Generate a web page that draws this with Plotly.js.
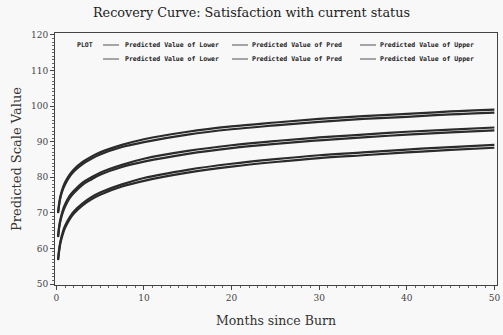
<!DOCTYPE html>
<html>
<head>
<meta charset="utf-8">
<script src="https://cdn.plot.ly/plotly-3.0.1.min.js"></script>
<style>html,body{margin:0;padding:0;background:#f8f8f8;}#chart{width:503px;height:335px;}</style>
</head>
<body>
<div id="chart"></div>
<script>
// Months since burn (x values)
const months = [0.2, 0.35, 0.5, 0.75, 1, 1.5, 2, 3, 4, 5, 7.5, 10, 15, 20, 25, 30, 35, 40, 45, 50];

// Upper band (two plotted lines)
const upperHi = [70.1, 73.1, 75.0, 77.1, 78.6, 80.7, 82.2, 84.3, 85.8, 87.0, 89.1, 90.7, 92.8, 94.3, 95.4, 96.4, 97.2, 97.8, 98.5, 99.0];
const upperLo = [69.9, 72.7, 74.6, 76.6, 78.0, 80.1, 81.6, 83.7, 85.2, 86.4, 88.5, 89.9, 92.0, 93.5, 94.6, 95.6, 96.4, 97.0, 97.7, 98.2];

// Predicted (middle band)
const predHi = [63.4, 66.6, 68.5, 70.8, 72.4, 74.7, 76.2, 78.5, 80.0, 81.3, 83.5, 85.2, 87.4, 89.0, 90.2, 91.2, 92.0, 92.8, 93.4, 94.0];
const predLo = [63.2, 66.2, 68.1, 70.2, 71.8, 74.1, 75.6, 77.9, 79.4, 80.7, 82.9, 84.4, 86.6, 88.2, 89.4, 90.4, 91.2, 92.0, 92.6, 93.2];

// Lower band
const lowerHi = [56.9, 60.2, 62.3, 64.7, 66.4, 68.7, 70.4, 72.7, 74.4, 75.7, 78.0, 79.8, 82.1, 83.8, 85.1, 86.2, 87.0, 87.8, 88.5, 89.1];
const lowerLo = [56.7, 59.8, 61.9, 64.1, 65.8, 68.1, 69.8, 72.1, 73.8, 75.1, 77.4, 79.0, 81.3, 83.0, 84.3, 85.4, 86.2, 87.0, 87.7, 88.3];

const seriesNames = ["Predicted Value of Lower", "Predicted Value of Pred", "Predicted Value of Upper"];
const legendTitle = "PLOT";
const xTicks = [0, 10, 20, 30, 40, 50];
const yTicks = [50, 60, 70, 80, 90, 100, 110, 120];

const lineColor = "#2b2b2b";
function tr(y, name) {
  return {x: months, y: y, name: name, type: "scatter", mode: "lines", showlegend: false,
          line: {color: lineColor, width: 2.2, shape: "spline", smoothing: 1}};
}
const traces = [
  tr(lowerHi, seriesNames[0]), tr(predHi, seriesNames[1]), tr(upperHi, seriesNames[2]),
  tr(lowerLo, seriesNames[0]), tr(predLo, seriesNames[1]), tr(upperLo, seriesNames[2])
];

// Legend drawn inside the frame (pixel placement converted to paper coordinates)
const L = 55, R = 497, T = 33, B = 285;
const px = v => (v - L) / (R - L);
const py = v => (B - v) / (B - T);
const legFont = {family: "DejaVu Sans Mono", size: 6.5, color: "#222", weight: "bold"};
const colLine = [103, 232, 360];
const colText = [123, 250, 378];
const rowY = [45, 59];
const shapes = [];
const annotations = [{xref: "paper", yref: "paper", x: px(75), y: py(rowY[0]), xanchor: "left", yanchor: "middle",
                      text: legendTitle, showarrow: false, font: legFont}];
rowY.forEach(ry => {
  seriesNames.forEach((nm, i) => {
    shapes.push({type: "line", xref: "paper", yref: "paper", x0: px(colLine[i]), x1: px(colLine[i] + 16),
                 y0: py(ry), y1: py(ry), line: {color: "#777", width: 1.3}});
    annotations.push({xref: "paper", yref: "paper", x: px(colText[i]), y: py(ry), xanchor: "left", yanchor: "middle",
                      text: nm, showarrow: false, font: legFont});
  });
});

const tickFont = {family: "DejaVu Serif", size: 9, color: "#444"};
const layout = {
  width: 503, height: 335,
  paper_bgcolor: "#f8f8f8", plot_bgcolor: "#f8f8f8",
  margin: {l: L, r: 503 - R, t: T, b: 335 - B},
  title: {text: "Recovery Curve: Satisfaction with current status",
          font: {family: "DejaVu Serif", size: 12.8, color: "#222"},
          x: 0.5, xanchor: "center", y: 0.963, yanchor: "middle"},
  xaxis: {range: [-0.15, 50.3], tickvals: xTicks, ticks: "outside", ticklen: 4, tickcolor: "#444",
          minor: {dtick: 1, ticks: "outside", ticklen: 2, tickcolor: "#666"},
          showgrid: false, zeroline: false, showline: true, linecolor: "#444", linewidth: 1, mirror: true,
          tickfont: tickFont,
          title: {text: "Months since Burn", font: {family: "DejaVu Serif", size: 12.5, color: "#333"}, standoff: 14}},
  yaxis: {range: [49.72, 120.56], tickvals: yTicks, ticks: "outside", ticklen: 4, tickcolor: "#444",
          minor: {dtick: 1, ticks: "outside", ticklen: 2, tickcolor: "#666"},
          showgrid: false, zeroline: false, showline: true, linecolor: "#444", linewidth: 1, mirror: true,
          tickfont: tickFont,
          title: {text: "Predicted Scale Value", font: {family: "DejaVu Serif", size: 13, color: "#333"}, standoff: 6}},
  showlegend: false,
  shapes: shapes,
  annotations: annotations
};
Plotly.newPlot("chart", traces, layout, {staticPlot: true, displayModeBar: false});
</script>
</body>
</html>
